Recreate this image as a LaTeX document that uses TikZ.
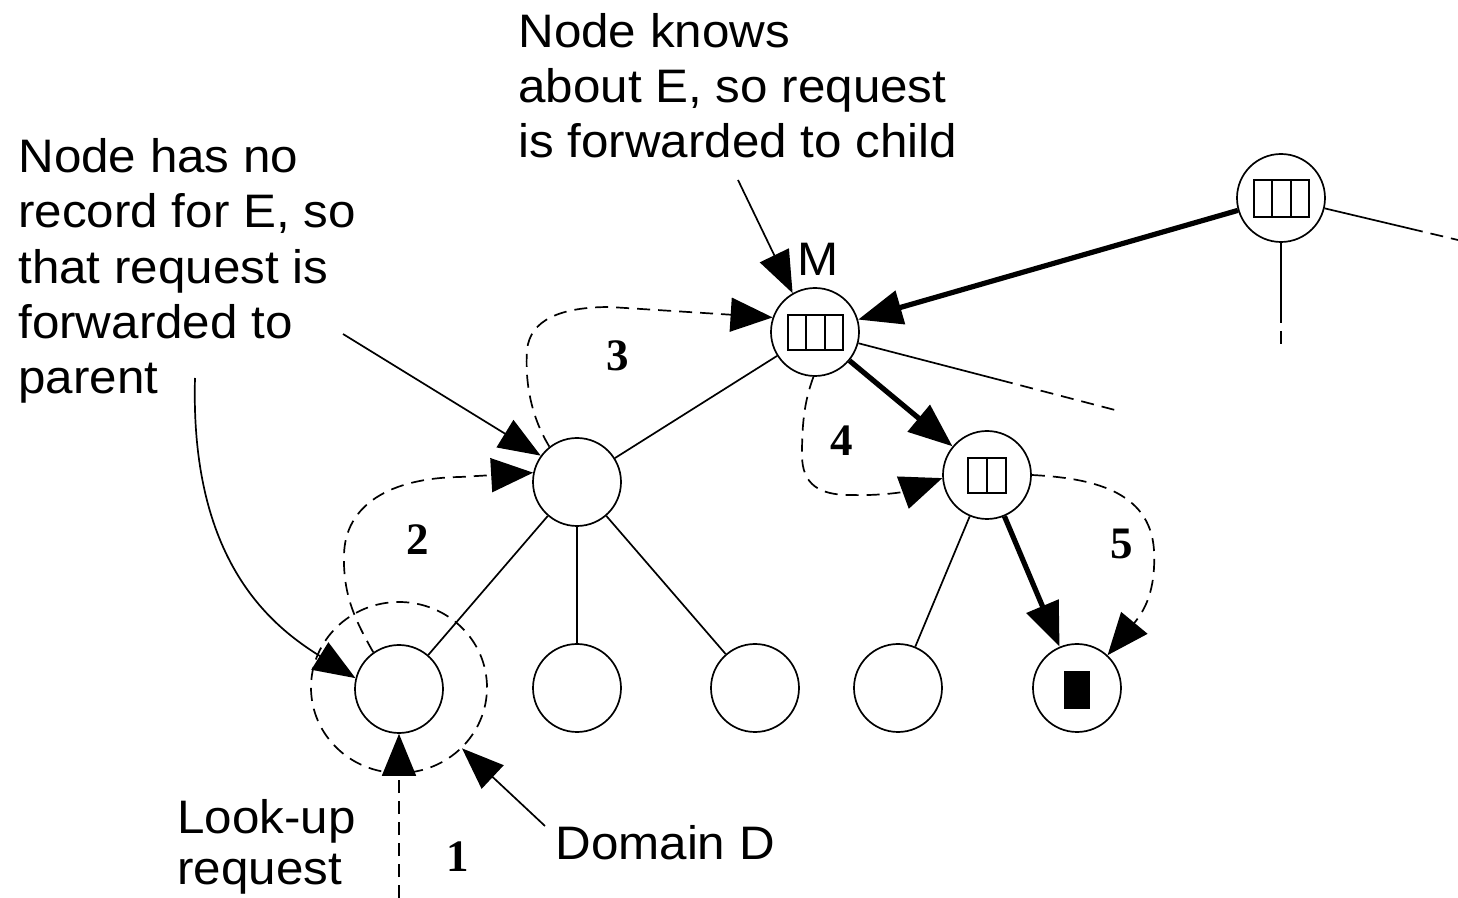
\documentclass[tikz,border=0pt]{standalone}
\usepackage{fontspec}
\setmainfont{Liberation Sans}[FakeStretch=1.05]
\newfontfamily\numfont{Liberation Serif}
\usetikzlibrary{arrows.meta,shapes.geometric}
\begin{document}
\begin{tikzpicture}[x=0.5pt,y=-0.5pt,
  nd/.style={circle,draw,line width=0.85pt,minimum size=44pt,inner sep=0pt},
  dom/.style={ellipse,draw,line width=0.85pt,dash pattern=on 6.5pt off 4pt,minimum width=88pt,minimum height=85.5pt,inner sep=0pt},
  thinln/.style={line width=0.85pt},
  thk/.style={line width=2.6pt,-{Triangle[length=22pt,width=17pt]}},
  dsh/.style={line width=0.85pt,dash pattern=on 6.5pt off 4pt},
  dar/.style={dsh,-{Triangle[length=21pt,width=17pt]}},
  ann/.style={line width=0.85pt,-{Triangle[length=21pt,width=16pt]}},
  lbl/.style={anchor=base west,inner sep=0pt,font=\fontsize{23.5}{28}\selectfont},
  num/.style={inner sep=0pt,font=\numfont\bfseries\fontsize{22.5}{26}\selectfont},
  tbl/.style={line width=0.85pt}]
\useasboundingbox (0,0) rectangle (1458,898);
\fill[white] (0,0) rectangle (1458,898);

% nodes
\node[nd] (M)  at (815,332) {};
\node[nd] (TR) at (1281,198) {};
\node[nd] (A)  at (577,482) {};
\node[nd] (B)  at (987,475) {};
\node[nd] (L1) at (399,689) {};
\node[nd] (L2) at (577,688) {};
\node[nd] (L3) at (755,688) {};
\node[nd] (L4) at (898,688) {};
\node[nd] (L5) at (1077,688) {};
\node[dom] (D) at (399,687.5) {};

% tables inside nodes
\draw[tbl] (788,315) rectangle (843,350) (806.3,315) -- (806.3,350) (824.7,315) -- (824.7,350);
\draw[tbl] (1254,180) rectangle (1309,217) (1272.3,180) -- (1272.3,217) (1290.7,180) -- (1290.7,217);
\draw[tbl] (968,458) rectangle (1006,493) (987,458) -- (987,493);
\fill (1064,671) rectangle (1090,709);

% tree edges
\draw[thinln] (M) -- (A);
\draw[thinln] (A) -- (L1);
\draw[thinln] (A) -- (L2);
\draw[thinln] (A) -- (L3);
\draw[thinln] (B) -- (L4);
\draw[thk] (TR) -- (M);
\draw[thk] (M) -- (B);
\draw[thk] (B) -- (L5);

% partial edges leaving the picture
\coordinate (trd1) at (1281,310);
\coordinate (trd2) at (1281,350);
\coordinate (trr1) at (1410,228.6);
\coordinate (trr2) at (1458,240);
\coordinate (mr1) at (1000,380);
\coordinate (mr2) at (1115,410);
\draw[thinln] (TR) -- (trd1);
\draw[dsh] (trd1) -- (trd2);
\draw[thinln] (TR) -- (trr1);
\draw[dsh] (trr1) -- (trr2);
\draw[thinln] (M) -- (mr1);
\draw[dsh] (mr1) -- (mr2);

% request path (dashed)
\coordinate (lk) at (399,898);
\draw[dar] (lk) -- (L1.south);
\draw[dar] (L1.125) .. controls (355,620) and (343,595) .. (344,555)
  .. controls (345,505) and (390,478) .. (460,477) -- (A.168);
\draw[dar] (A.128) .. controls (530,415) and (525,380) .. (527,350)
  .. controls (530,320) and (560,307) .. (610,307) -- (M.161);
\draw[dar] (M.268) .. controls (805,400) and (802,420) .. (802,455)
  .. controls (802,485) and (820,495) .. (850,495)
  .. controls (890,496) and (910,490) .. (B.184);
\draw[dar] (B.0) .. controls (1090,478) and (1150,490) .. (1154,550)
  .. controls (1156,590) and (1145,610) .. (L5.47);

% step numbers
\node[num] (n1) at (458,857) {1};
\node[num] (n2) at (418,540) {2};
\node[num] (n3) at (618,356) {3};
\node[num] (n4) at (842,441) {4};
\node[num] (n5) at (1122,544) {5};

% labels
\node[lbl] (mlab) at (797,276) {M};
\node[lbl] (t1) at (518,48) {Node knows};
\node[lbl] (t2) at (518,103) {about E, so request};
\node[lbl] (t3) at (518,158) {is forwarded to child};
\node[lbl] (p1) at (18,173) {Node has no};
\node[lbl] (p2) at (18,228) {record for E, so};
\node[lbl] (p3) at (18,284) {that request is};
\node[lbl] (p4) at (18,339) {forwarded to};
\node[lbl] (p5) at (18,394) {parent};
\node[lbl] (q1) at (177,834) {Look-up};
\node[lbl] (q2) at (177,884) {request};
\node[lbl] (dd) at (555,859) {Domain D};

% annotation arrows
\coordinate (a1) at (738,180);
\coordinate (a2) at (343,334);
\coordinate (a3) at (195,378);
\coordinate (a4) at (545,826);
\draw[ann] (a1) -- (M.120);
\draw[ann] (a2) -- (A.144);
\draw[ann] (a3) .. controls (190,560) and (270,625) .. (L1.166);
\draw[ann] (a4) -- (D.-44);
\end{tikzpicture}
\end{document}
